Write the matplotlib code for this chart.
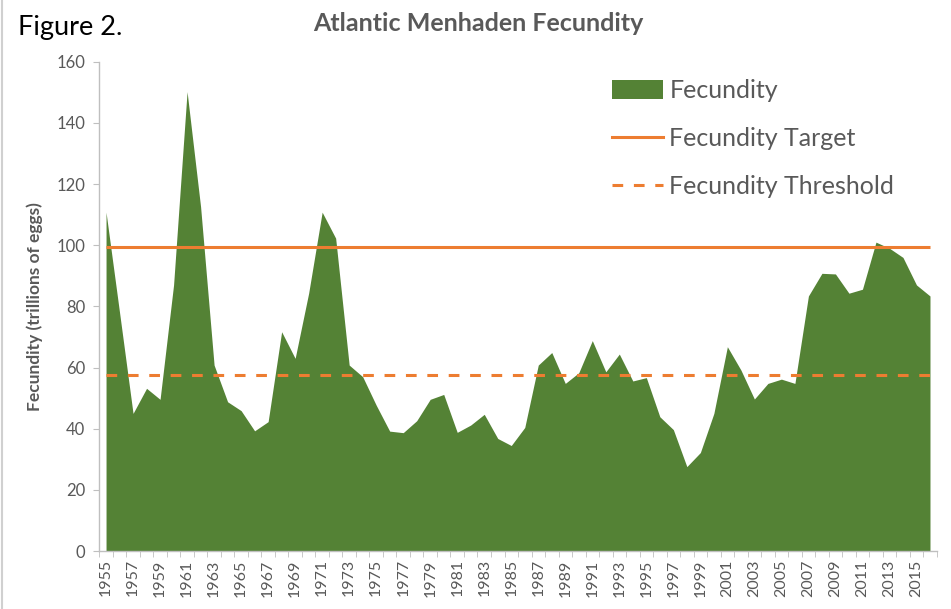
import matplotlib
matplotlib.use("Agg")
import matplotlib.pyplot as plt
from matplotlib.patches import Patch
from matplotlib.lines import Line2D
import numpy as np

years = list(range(1955, 2017))
fecundity = [110.8, 78.0, 45.0, 53.2, 49.6, 87.0, 150.2, 112.6, 60.8, 48.8,
             45.9, 39.3, 42.3, 71.7, 63.0, 84.3, 110.8, 102.3, 60.8, 57.0,
             47.7, 39.2, 38.7, 42.6, 49.6, 51.2, 38.8, 41.2, 44.7, 36.8,
             34.5, 40.4, 60.8, 64.9, 54.8, 58.3, 68.8, 58.6, 64.4, 55.6,
             56.7, 43.9, 39.7, 27.6, 32.2, 45.0, 66.8, 59.2, 49.7, 54.8,
             56.2, 54.8, 83.4, 90.8, 90.6, 84.3, 85.6, 101.0, 99.0, 96.0,
             87.0, 83.4]
target = 99.5
threshold = 57.5
tick_years = list(range(1955, 2017, 2))

GREEN = "#548235"
ORANGE = "#ED7D31"
GRAY = "#595959"
FONT = "Lato"

plt.rcParams['font.family'] = [FONT, 'DejaVu Sans']

fig = plt.figure(figsize=(9.51, 6.09), dpi=100)
ax = fig.add_axes([0.1044, 0.0952, 0.8806, 0.8035])

ax.fill_between(years, fecundity, 0, color=GREEN, linewidth=0)
ax.plot([years[0], years[-1]], [target, target], color=ORANGE, lw=2.2, solid_capstyle='butt')
ax.plot([years[0], years[-1]], [threshold, threshold], color=ORANGE, lw=2.2,
        dashes=(3.5, 3.5))

ax.set_xlim(1954.5, 2016.5)
ax.set_ylim(0, 160)
ax.set_yticks(range(0, 161, 20))
ax.set_xticks(tick_years)
ax.set_xticklabels([str(y) for y in tick_years], rotation=90, fontsize=11.5, color=GRAY)
ax.set_xticks(np.arange(1954.5, 2017, 1), minor=True)
ax.tick_params(axis='x', which='major', length=0, pad=6)
ax.tick_params(axis='x', which='minor', length=4, color="#BFBFBF", direction='out')
ax.tick_params(axis='y', length=4, color="#BFBFBF", labelsize=12, labelcolor=GRAY, pad=6)

for s in ['top', 'right']:
    ax.spines[s].set_visible(False)
for s in ['left', 'bottom']:
    ax.spines[s].set_color("#BFBFBF")
    ax.spines[s].set_linewidth(1)

ax.set_ylabel("Fecundity (trillions of eggs)", fontsize=12.5, fontweight='bold',
              color=GRAY, labelpad=10)

handles = [Patch(facecolor=GREEN, edgecolor='none'),
           Line2D([0], [0], color=ORANGE, lw=2.2),
           Line2D([0], [0], color=ORANGE, lw=2.2, dashes=(3.5, 3.5))]
labels = ["Fecundity", "Fecundity Target", "Fecundity Threshold"]
leg = ax.legend(handles, labels, loc='upper left', bbox_to_anchor=(0.612, 0.964),
                frameon=False, fontsize=18, handlelength=2.05, handleheight=0.75,
                labelspacing=1.0, handletextpad=0.25, borderpad=0, borderaxespad=0)
for t in leg.get_texts():
    t.set_color(GRAY)

fig.text(0.503, 0.962, "Atlantic Menhaden Fecundity", ha='center', va='center',
         fontsize=18, fontweight='bold', color=GRAY)
fig.text(0.019, 0.955, "Figure 2.", ha='left', va='center', fontsize=19.5, color='black')

fig.add_artist(Line2D([0.002, 0.002], [0, 1], transform=fig.transFigure,
                      color="#D0D0D0", lw=1.5))

fig.savefig("out.png", dpi=100)
